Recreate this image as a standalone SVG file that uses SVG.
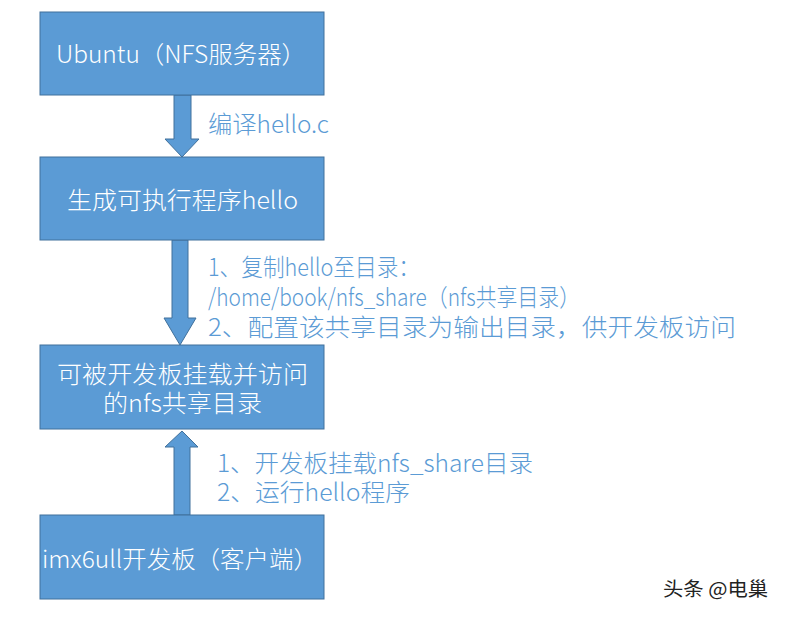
<svg xmlns="http://www.w3.org/2000/svg" width="785" height="617" viewBox="0 0 785 617">
<style>
.box{fill:#5B9BD5;stroke:#41719C;stroke-width:1}
.arr{fill:#5B9BD5;stroke:#41719C;stroke-width:1}
text{font-family:"Noto Sans CJK SC","Noto Sans",sans-serif;font-size:24px;font-weight:300}
.w{fill:#FFFFFF}
.b{fill:#5B9BD5}
.wm{fill:#222222;font-size:19px;font-weight:400}
</style>
<rect width="785" height="617" fill="#FFFFFF"/>
<g id="connectors">
<polygon class="arr" points="174,95 191,95 191,139 199,139 182,157 165,139 174,139"/>
<polygon class="arr" points="172,240 188,240 188,318 196,318 180,345 164,318 172,318"/>
<polygon class="arr" points="174,515 190,515 190,447 198,447 182,431 165,447 174,447"/>
<text class="b" x="208" y="133" textLength="121" lengthAdjust="spacingAndGlyphs">编译hello.c</text>
<text class="b" x="208" y="276" textLength="212" lengthAdjust="spacingAndGlyphs">1、复制hello至目录：</text>
<text class="b" x="208" y="306" textLength="372" lengthAdjust="spacingAndGlyphs">/home/book/nfs_share（nfs共享目录）</text>
<text class="b" x="208" y="336" textLength="528" lengthAdjust="spacingAndGlyphs">2、配置该共享目录为输出目录，供开发板访问</text>
<text class="b" x="217" y="472" textLength="316" lengthAdjust="spacingAndGlyphs">1、开发板挂载nfs_share目录</text>
<text class="b" x="217" y="501" textLength="193" lengthAdjust="spacingAndGlyphs">2、运行hello程序</text>
</g>
<g id="node-ubuntu">
<rect class="box" x="40" y="12" width="284" height="83"/>
<text class="w" x="56" y="63" textLength="250" lengthAdjust="spacingAndGlyphs">Ubuntu（NFS服务器）</text>
</g>
<g id="node-build">
<rect class="box" x="40" y="157" width="284" height="83"/>
<text class="w" x="67" y="209" textLength="231" lengthAdjust="spacingAndGlyphs">生成可执行程序hello</text>
</g>
<g id="node-share">
<rect class="box" x="40" y="345" width="284" height="84"/>
<text class="w" x="57" y="383" textLength="251" lengthAdjust="spacingAndGlyphs">可被开发板挂载并访问</text>
<text class="w" x="103" y="412" textLength="159" lengthAdjust="spacingAndGlyphs">的nfs共享目录</text>
</g>
<g id="node-board">
<rect class="box" x="40" y="515" width="284" height="84"/>
<text class="w" x="42" y="568" textLength="276" lengthAdjust="spacingAndGlyphs">imx6ull开发板（客户端）</text>
</g>
<text class="wm" x="663" y="596" textLength="105" lengthAdjust="spacingAndGlyphs">头条 @电巢</text>
</svg>
